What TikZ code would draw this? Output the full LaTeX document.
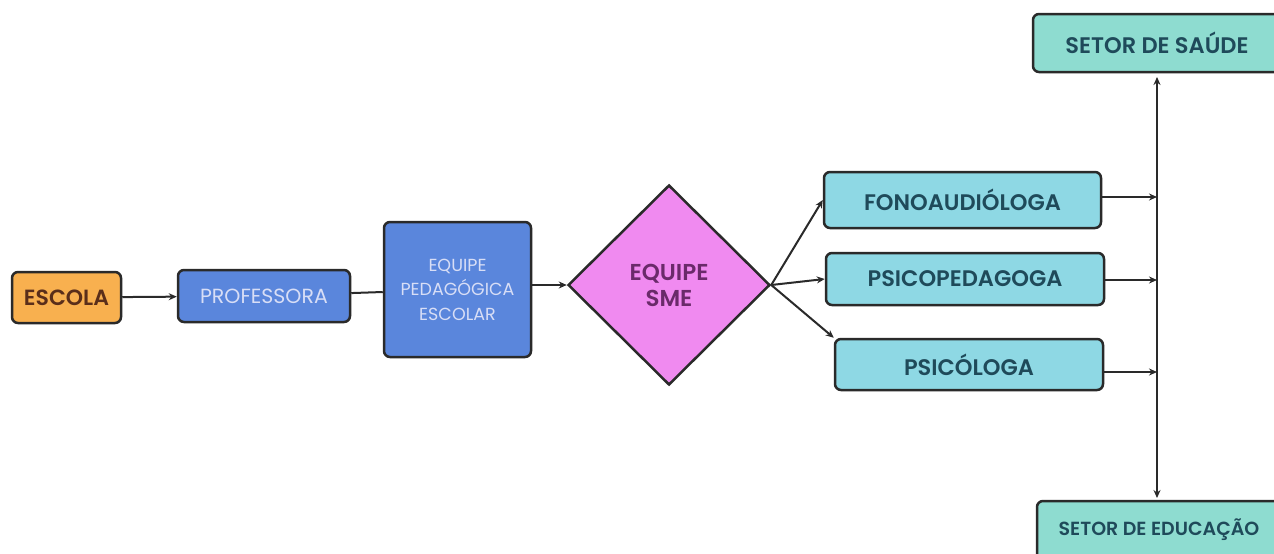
\documentclass[tikz,border=0pt]{standalone}
\usepackage{fontspec}
\setmainfont{Poppins}[BoldFont={Poppins SemiBold}]
\usetikzlibrary{shapes.geometric,arrows.meta}
\definecolor{orangefill}{HTML}{F8B04F}
\definecolor{bluefill}{HTML}{5A86DC}
\definecolor{pinkfill}{HTML}{F08AF0}
\definecolor{cyanfill}{HTML}{8ED8E4}
\definecolor{tealfill}{HTML}{8EDCD0}
\definecolor{edge}{HTML}{2A2A2A}
\definecolor{browntxt}{HTML}{5A2E1A}
\definecolor{lighttxt}{HTML}{D8DEF6}
\definecolor{purpletxt}{HTML}{6A2A6A}
\definecolor{darkcyan}{HTML}{1F4A5A}
\tikzset{
  box/.style={draw=edge, line width=2.5pt, rounded corners=6pt, inner sep=0pt, align=center},
  orangebox/.style={box, fill=orangefill, text=browntxt, font=\bfseries\fontsize{22}{26}\selectfont},
  bluebox/.style={box, fill=bluefill, text=lighttxt, font=\fontsize{20.5}{26}\selectfont},
  cyanbox/.style={box, fill=cyanfill, text=darkcyan, font=\bfseries\fontsize{22.5}{26}\selectfont},
  tealbox/.style={box, fill=tealfill, text=darkcyan, font=\bfseries\fontsize{22.5}{26}\selectfont},
  decision/.style={diamond, shape aspect=1, draw=edge, line width=2.5pt, fill=pinkfill, text=purpletxt, inner sep=0pt, align=center, font=\bfseries\fontsize{23}{26}\selectfont},
  conn/.style={draw=edge, line width=2pt},
  arr/.style={conn, -{Stealth[length=8pt,width=7pt]}},
}
\begin{document}
\begin{tikzpicture}[x=1pt,y=-1pt]
\useasboundingbox[fill=white] (0,0) rectangle (1274,554);
\node[orangebox, minimum width=109pt, minimum height=51pt] (escola) at (66.5,297.5) {ESCOLA};
\node[bluebox, minimum width=172pt, minimum height=52pt] (prof) at (264,296) {PROFESSORA};
\node[bluebox, minimum width=147pt, minimum height=135pt, font=\fontsize{17.5}{24.5}\selectfont] (ped) at (457.5,289.5) {EQUIPE\\PEDAGÓGICA\\ESCOLAR};
\node[decision, minimum width=202pt, minimum height=200pt] (sme) at (669,285) {EQUIPE\\SME};
\node[cyanbox, minimum width=277pt, minimum height=56pt] (fono) at (962.5,200) {FONOAUDIÓLOGA};
\node[cyanbox, minimum width=278pt, minimum height=52pt] (psiped) at (965,279) {PSICOPEDAGOGA};
\node[cyanbox, minimum width=268pt, minimum height=51pt] (psico) at (969,364.5) {PSICÓLOGA};
\node[tealbox, minimum width=248pt, minimum height=58pt] (saude) at (1157,43) {SETOR DE SAÚDE};
\node[tealbox, minimum width=244pt, minimum height=58pt, font=\bfseries\fontsize{19}{22}\selectfont] (educ) at (1159,530) {SETOR DE EDUCAÇÃO};
\coordinate (vtop) at (1157,72);
\coordinate (vbot) at (1157,501);
\coordinate (j1) at (1157,197);
\coordinate (j2) at (1157,280);
\coordinate (j3) at (1157,372);
\draw[arr] (escola) -- (prof);
\draw[conn] (prof) -- (ped);
\draw[arr] (ped.east |- sme.west) -- (sme.west);
\draw[arr] (sme.east) -- (fono.west);
\draw[arr] (sme.east) -- (psiped.west);
\draw[arr] (sme.east) -- (psico.north west);
\draw[arr, shorten >=5pt] (vbot |- j2) -- (vtop);
\draw[arr, shorten >=3pt] (j2) -- (vbot);
\draw[arr] (fono.east |- j1) -- (j1);
\draw[arr] (psiped.east |- j2) -- (j2);
\draw[arr] (psico.east |- j3) -- (j3);
\end{tikzpicture}
\end{document}
